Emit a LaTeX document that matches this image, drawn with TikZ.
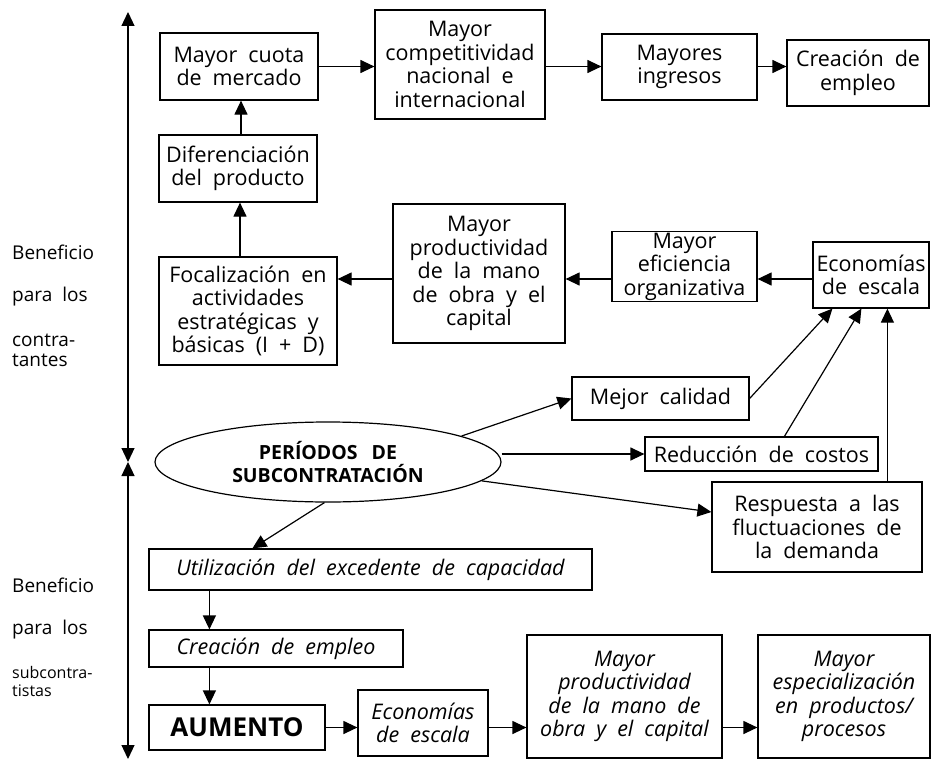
\documentclass[tikz,border=0pt]{standalone}
\usepackage{fontspec}
\setmainfont{Open Sans}
\usepackage{tikz}
\usetikzlibrary{arrows.meta,positioning,shapes.geometric}

\begin{document}
\begin{tikzpicture}[x=1pt,y=-1pt]
    \tikzstyle{box}=[draw,line width=1.2pt,align=center,inner sep=1pt,%
    font=\fontsize{21.5}{23.5}\selectfont,%
    execute at begin node={\spaceskip=11pt plus 2pt\relax}] %
    \tikzstyle{itbox}=[box,font=\fontsize{21.5}{23.5}\selectfont\itshape] %
    \tikzstyle{lbl}=[anchor=west,align=left,inner sep=0pt,%
    font=\fontsize{19}{20}\selectfont,%
    execute at begin node={\spaceskip=10pt plus 2pt\relax}] %
    \tikzstyle{arr}=[line width=1.2pt,-{Triangle[length=14pt,width=13pt]}] %

    \useasboundingbox (0,0) rectangle (931,760);

    % contratantes
    \node[box,minimum width=158pt,minimum height=67pt] (CUOTA) at (239,66.5)
        {Mayor cuota\\de mercado};
    \node[box,minimum width=170pt,minimum height=109pt] (COMP) at (460,64.5)
        {Mayor\\competitividad\\nacional e\\internacional};
    \node[box,minimum width=155pt,minimum height=66pt] (INGR) at (679.5,67)
        {Mayores\\ingresos};
    \node[box,minimum width=142pt,minimum height=66pt] (EMPL1) at (858,73)
        {Creación de\\empleo};

    \node[box,minimum width=158pt,minimum height=67pt] (DIFE) at (238,168.5)
        {Diferenciación\\del producto};
    \node[box,minimum width=178pt,minimum height=108pt] (FOCA) at (248,311)
        {Focalización en\\actividades\\estratégicas y\\básicas (I + D)};
    \node[box,minimum width=172pt,minimum height=139pt] (PROD1) at (479,273.5)
        {Mayor\\productividad\\de la mano\\de obra y el\\capital};
    \node[box,minimum width=145pt,minimum height=65pt] (EFIC) at (684.5,266.5)
        {Mayor\\eficiencia\\organizativa};
    \node[box,minimum width=116pt,minimum height=66pt] (ECON1) at (871,275)
        {Economías\\de escala};

    \node[box,minimum width=177pt,minimum height=43pt] (CALI) at (660.5,398.5)
        {Mejor calidad};
    \node[box,minimum width=233pt,minimum height=34pt] (COST) at (761.5,454)
        {Reducción de costos};
    \node[box,minimum width=210pt,minimum height=90pt] (RESP) at (817,527)
        {Respuesta a las\\fluctuaciones de\\la demanda};

    \node[ellipse,draw,line width=1.2pt,minimum width=346pt,minimum height=80pt,%
        align=center,inner sep=0pt,font=\fontsize{19.5}{23}\selectfont\bfseries]
        (PERI) at (328,462) {PERÍODOS\hspace{14pt}DE\\SUBCONTRATACIÓN};

    % subcontratistas
    \node[itbox,minimum width=443pt,minimum height=41pt] (UTIL) at (370.5,569.5)
        {Utilización del excedente de capacidad};
    \node[itbox,minimum width=254pt,minimum height=37pt] (EMPL2) at (276,648.5)
        {Creación de empleo};
    \node[box,minimum width=176pt,minimum height=45pt,%
        font=\fontsize{26}{28}\selectfont\bfseries] (AUME) at (237,727.5)
        {AUMENTO};
    \node[itbox,minimum width=130pt,minimum height=66pt] (ECON2) at (423,723)
        {Economías\\de escala};
    \node[itbox,minimum width=195pt,minimum height=123pt] (PROD2) at (624.5,696.5)
        {Mayor\\productividad\\de la mano de\\obra y el capital};
    \node[itbox,minimum width=172pt,minimum height=123pt] (ESPE) at (844,696.5)
        {Mayor\\especialización\\en productos/\\procesos};

    % eje izquierdo
    \coordinate (AXT) at (128,12);
    \coordinate (AXM) at (128,462);
    \coordinate (AXB) at (128,759);
    \draw [line width=1.2pt,{Triangle[length=14pt,width=13pt]}-{Triangle[length=14pt,width=13pt]}]
        (AXT) -- (AXM);
    \draw [line width=1.2pt,{Triangle[length=14pt,width=13pt]}-{Triangle[length=14pt,width=13pt]}]
        (AXM) -- (AXB);

    \node[lbl] (BEN1) at (12,252) {Beneficio};
    \node[lbl] (PAR1) at (12,297) {para los};
    \node[lbl] (CON1) at (12,350) {contra-\\tantes};
    \node[lbl] (BEN2) at (12,585) {Beneficio};
    \node[lbl] (PAR2) at (12,630) {para los};
    \node[lbl,font=\fontsize{16}{18}\selectfont] (CON2) at (12,681)
        {subcontra-\\tistas};

    % conectores
    \path [arr] (CUOTA.east) edge (CUOTA.east -| COMP.west);
    \path [arr] (COMP.east |- CUOTA.east) edge (CUOTA.east -| INGR.west);
    \path [arr] (INGR.east |- CUOTA.east) edge (CUOTA.east -| EMPL1.west);
    \path [arr] ([xshift=3pt]DIFE.north) edge ([xshift=2pt]CUOTA.south);
    \path [arr] ([xshift=-8pt]FOCA.north) edge ([xshift=2pt]DIFE.south);

    \coordinate (ROW2) at (0,279);
    \path [arr] (ECON1.west |- ROW2) edge (EFIC.east |- ROW2);
    \path [arr] (EFIC.west |- ROW2) edge (PROD1.east |- ROW2);
    \path [arr] (PROD1.west |- ROW2) edge (FOCA.east |- ROW2);

    \coordinate (EA1) at ([xshift=20pt]ECON1.south west);
    \coordinate (EA2) at ([xshift=49pt]ECON1.south west);
    \coordinate (EA3) at ([xshift=75pt]ECON1.south west);
    \path [arr] (CALI.east) edge (EA1);
    \path [arr] ([xshift=140pt]COST.north west) edge (EA2);
    \path [arr] (RESP.north -| EA3) edge (EA3);

    \path [arr] (PERI.11) edge (CALI.west);
    \path [arr] (PERI.east |- COST.west) edge (COST.west);
    \path [arr] (PERI.-7.5) edge ([yshift=15pt]RESP.west);
    \path [arr] (PERI.265) edge ([xshift=104pt]UTIL.north west);

    \path [arr] ([xshift=61pt]UTIL.south west) edge ([xshift=61pt]EMPL2.north west);
    \path [arr] ([xshift=61pt]EMPL2.south west) edge ([xshift=61pt]AUME.north west);
    \path [arr] (AUME.east) edge (AUME.east -| ECON2.west);
    \path [arr] (ECON2.east |- AUME.east) edge (AUME.east -| PROD2.west);
    \path [arr] (PROD2.east |- AUME.east) edge (AUME.east -| ESPE.west);
\end{tikzpicture}
\end{document}
